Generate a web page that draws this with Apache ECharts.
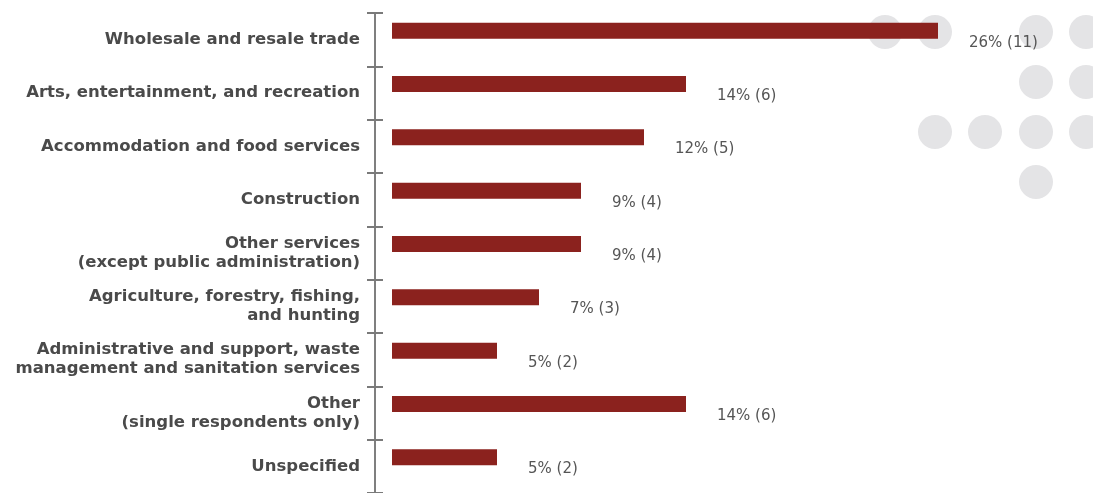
<!DOCTYPE html>
<html>
<head>
<meta charset="utf-8">
<script src="https://cdn.jsdelivr.net/npm/echarts@6/dist/echarts.min.js"></script>
<style>
  html, body { margin: 0; padding: 0; background: #ffffff; }
  #chart { width: 1093px; height: 493px; }
</style>
</head>
<body>
<div id="chart"></div>
<script>
// Industry breakdown of respondents
const categories = [
  'Wholesale and resale trade',
  'Arts, entertainment, and recreation',
  'Accommodation and food services',
  'Construction',
  'Other services\n(except public administration)',
  'Agriculture, forestry, fishing,\nand hunting',
  'Administrative and support, waste\nmanagement and sanitation services',
  'Other\n(single respondents only)',
  'Unspecified'
];
const percents = [26, 14, 12, 9, 9, 7, 5, 14, 5];
const counts = [11, 6, 5, 4, 4, 3, 2, 6, 2];

const BAR_COLOR = '#8B221E';
const DOT_COLOR = '#E4E4E6';

// Decorative dot cluster in the top-right corner
const dots = [
  [885, 32], [935, 32], [1036, 32], [1086, 32],
  [1036, 82], [1086, 82],
  [935, 132], [985, 132], [1036, 132], [1086, 132],
  [1036, 182]
];

const chart = echarts.init(document.getElementById('chart'));

const labelFont = {
  fontFamily: 'DejaVu Sans',
  fontWeight: 'bold',
  fontSize: 16.5,
  color: '#4A4A4A',
  lineHeight: 19
};

chart.setOption({
  animation: false,
  backgroundColor: '#ffffff',
  graphic: dots.map(([cx, cy]) => ({
    type: 'circle',
    shape: { cx, cy, r: 17 },
    style: { fill: DOT_COLOR },
    z: -10,
    silent: true
  })),
  grid: { left: 392, right: 71, top: 13, bottom: 0 },
  xAxis: {
    type: 'value',
    min: 0,
    max: 30,
    show: false
  },
  yAxis: [
    {
      type: 'category',
      data: categories,
      inverse: true,
      offset: 17,
      boundaryGap: true,
      axisLine: { show: true, onZero: false, lineStyle: { color: '#555555', width: 1.5 } },
      axisTick: { show: true, length: 8, lineStyle: { color: '#7A7A7A', width: 2 } },
      axisLabel: Object.assign({ margin: 15, align: 'right' }, labelFont)
    },
    {
      type: 'category',
      data: categories,
      inverse: true,
      position: 'left',
      offset: 17,
      axisLine: { show: false, onZero: false },
      axisTick: { show: true, inside: true, length: 8, lineStyle: { color: '#7A7A7A', width: 2 } },
      axisLabel: { show: false }
    }
  ],
  series: [
    {
      type: 'bar',
      yAxisIndex: 0,
      data: percents,
      barWidth: 16,
      barGap: '100%',
      itemStyle: { color: BAR_COLOR },
      label: {
        show: true,
        position: 'right',
        distance: 31,
        offset: [0, 12],
        fontFamily: 'DejaVu Sans',
        fontSize: 15,
        color: '#555555',
        formatter: p => percents[p.dataIndex] + '% (' + counts[p.dataIndex] + ')'
      }
    },
    {
      type: 'bar',
      yAxisIndex: 0,
      data: percents,
      barWidth: 2,
      itemStyle: { color: 'rgba(0,0,0,0)' },
      silent: true
    }
  ]
});
</script>
</body>
</html>
